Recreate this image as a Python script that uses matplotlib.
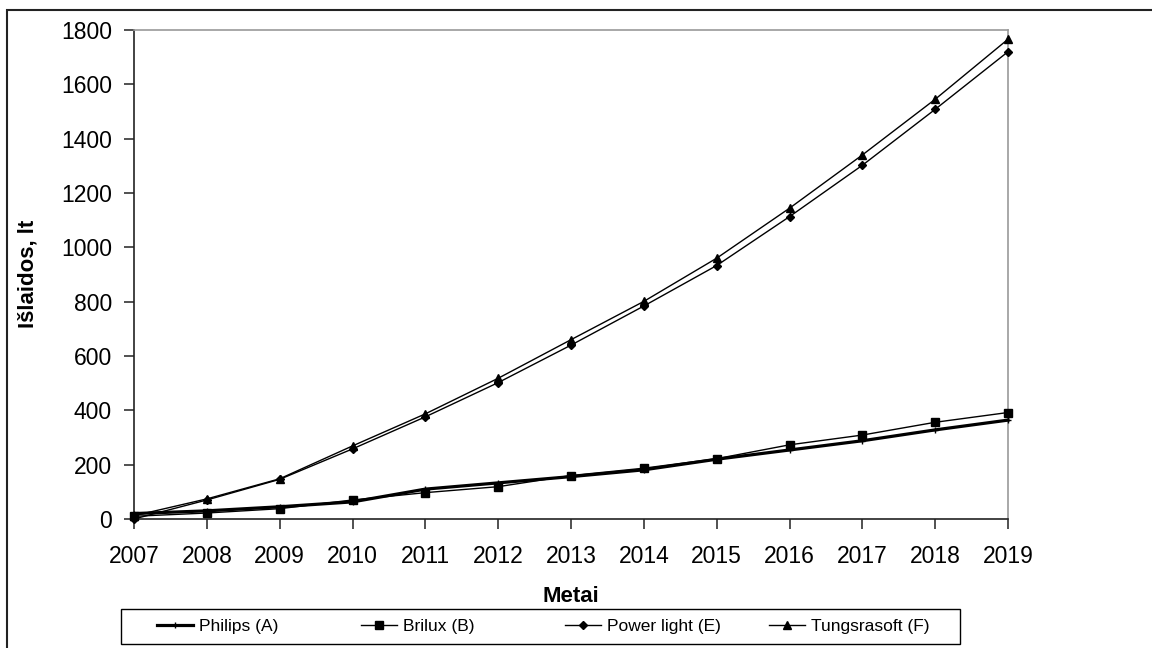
import matplotlib
matplotlib.use("Agg")
import matplotlib.pyplot as plt
from matplotlib.patches import Rectangle

plt.rcParams['font.family'] = ['Liberation Sans', 'DejaVu Sans']

years = [2007, 2008, 2009, 2010, 2011, 2012, 2013, 2014, 2015, 2016, 2017, 2018, 2019]
philips_a = [20, 30, 45, 63, 110, 133, 156, 181, 220, 254, 288, 328, 364]
brilux_b = [10, 22, 38, 70, 97, 119, 160, 187, 222, 273, 309, 356, 392]
power_light_e = [0, 70, 146, 258, 376, 502, 640, 784, 933, 1113, 1302, 1508, 1720]
tungsrasoft_f = [12, 74, 148, 269, 387, 518, 660, 801, 960, 1144, 1340, 1545, 1766]

series_names = ["Philips (A)", "Brilux (B)", "Power light (E)", "Tungsrasoft (F)"]

W, H = 1152, 648
fig = plt.figure(figsize=(W / 100, H / 100), dpi=100)
ax = fig.add_axes([134 / W, 1 - 519 / H, (1008 - 134) / W, (519 - 30) / H])

h_a, = ax.plot(years, philips_a, color='black', lw=2.3, marker='+', ms=4, mew=1,
               clip_on=False, zorder=3)
h_b, = ax.plot(years, brilux_b, color='black', lw=1.0, marker='s', ms=6.3,
               clip_on=False, zorder=3)
h_e, = ax.plot(years, power_light_e, color='black', lw=1.0, marker='D', ms=4.3,
               clip_on=False, zorder=3)
h_f, = ax.plot(years, tungsrasoft_f, color='black', lw=1.0, marker='^', ms=6,
               clip_on=False, zorder=3)

ax.set_xlim(2007, 2019)
ax.set_ylim(0, 1800)
ax.set_xticks(years)
ax.set_xticklabels([str(y) for y in years])
ax.set_yticks(range(0, 1801, 200))

for side in ('left', 'bottom'):
    ax.spines[side].set_color('#222222')
    ax.spines[side].set_linewidth(1.2)
for side in ('top', 'right'):
    ax.spines[side].set_color('#999999')
    ax.spines[side].set_linewidth(1.2)

ax.tick_params(axis='both', direction='out', length=7, width=1.1,
               color='#222222', labelsize=16.5, labelcolor='black')
ax.tick_params(axis='x', pad=11.5)
ax.tick_params(axis='y', pad=9)

ax.set_xlabel("Metai", fontsize=16, fontweight='bold')
ax.xaxis.set_label_coords(571 / W, 1 - 602.5 / H, transform=fig.transFigure)
ax.xaxis.label.set_va('baseline')

ax.set_ylabel("Išlaidos, lt", fontsize=16, fontweight='bold')
ax.yaxis.set_label_coords(28 / W, 1 - 274 / H, transform=fig.transFigure)
ax.yaxis.label.set_va('center')

# legend: one entry per column at even spacing inside a shared frame
leg_handles = [h_a, h_b, h_e, h_f]
col_x = [157, 361, 565, 769]
leg_y = 1 - 626.5 / H
for h, name, x0 in zip(leg_handles, series_names, col_x):
    fig.legend([h], [name], loc='center left', bbox_to_anchor=(x0 / W, leg_y),
               fontsize=12.5, frameon=False, handlelength=2.1,
               handletextpad=0.3, borderpad=0, borderaxespad=0)
fig.add_artist(Rectangle((121 / W, 1 - 644 / H), (960 - 121) / W, 35 / H,
                         transform=fig.transFigure, fill=False,
                         edgecolor='black', lw=1.0))

# outer chart frame
fig.add_artist(Rectangle((7 / W, -0.2), 1.2, 1.2 - 10 / H, transform=fig.transFigure,
                         fill=False, edgecolor='#222222', lw=1.5, clip_on=False))

fig.savefig("out.png", dpi=100)
